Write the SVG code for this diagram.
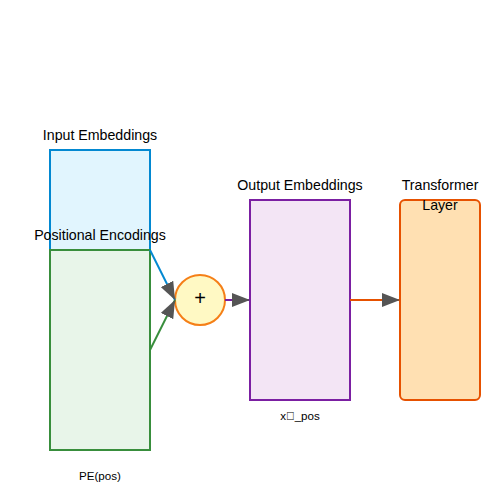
<svg xmlns="http://www.w3.org/2000/svg" width="500" height="500" viewBox="0 0 500 500">
<style>
text{font-family:"Liberation Sans",Arial,sans-serif;fill:#000;text-anchor:middle}
.lbl{font-size:14.2px}
.small{font-size:11.6px}
.conn{fill:none;stroke-width:2}
</style>
<defs>
<marker id="arr" viewBox="0 0 18 14" refX="18" refY="7" markerUnits="userSpaceOnUse" markerWidth="18" markerHeight="14" orient="auto">
<path d="M0,0 L18,7 L0,14 z" fill="#555"/>
</marker>
</defs>
<rect width="500" height="500" fill="#fff"/>
<g id="input">
<rect x="50" y="150" width="100" height="100" fill="#e1f5fe" stroke="#0288d1" stroke-width="2"/>
<text class="lbl" x="100" y="140">Input Embeddings</text>
</g>
<g id="pe">
<rect x="50" y="250" width="100" height="200" fill="#e8f5e9" stroke="#388e3c" stroke-width="2"/>
<text class="lbl" x="100" y="240">Positional Encodings</text>
<text class="small" x="100" y="480">PE(pos)</text>
</g>
<g id="add">
<circle cx="200" cy="300" r="25" fill="#fff9c4" stroke="#f57f17" stroke-width="2"/>
<text x="200" y="305" style="font-size:20px">+</text>
</g>
<g id="output">
<rect x="250" y="200" width="100" height="200" fill="#f3e5f5" stroke="#7b1fa2" stroke-width="2"/>
<text class="lbl" x="300" y="190">Output Embeddings</text>
<text class="small" x="300" y="420">x&#x20D7;_pos</text>
</g>
<g id="transformer">
<rect x="400" y="200" width="80" height="200" rx="5" fill="#ffe0b2" stroke="#e65100" stroke-width="2"/>
<text class="lbl" x="440" y="190">Transformer</text>
<text class="lbl" x="440" y="210">Layer</text>
</g>
<g id="connectors">
<line class="conn" x1="150" y1="250" x2="175" y2="300" stroke="#0288d1" marker-end="url(#arr)"/>
<line class="conn" x1="150" y1="350" x2="175" y2="300" stroke="#388e3c" marker-end="url(#arr)"/>
<line class="conn" x1="225" y1="300" x2="250" y2="300" stroke="#7b1fa2" marker-end="url(#arr)"/>
<line class="conn" x1="350" y1="300" x2="400" y2="300" stroke="#e65100" marker-end="url(#arr)"/>
</g>
</svg>
